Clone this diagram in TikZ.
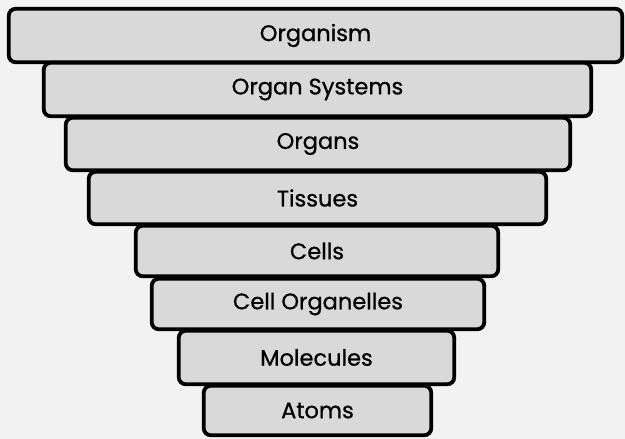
\documentclass[tikz,border=0pt]{standalone}
\usepackage{fontspec}
\setmainfont{Poppins}
\newfontfamily\barfont{Poppins}[FakeBold=0.8]
\definecolor{bg}{HTML}{F2F2F2}
\definecolor{barfill}{HTML}{D9D9D9}
\tikzset{
  bar/.style={draw=black, fill=barfill, line width=3.8pt, rounded corners=7pt,
    inner sep=0pt, font=\barfont\fontsize{22.5}{26}\selectfont, text=black}
}
\begin{document}
\begin{tikzpicture}[x=1pt,y=1pt]
\fill[bg] (0,0) rectangle (625,-439);
\useasboundingbox (0,0) rectangle (625,-439);
\node[bar, minimum width=613.5, minimum height=53.5] (b1) at (315.5,-35.5) {Organism};
\node[bar, minimum width=547.5, minimum height=53.5] (b2) at (317.5,-89.5) {Organ Systems};
\node[bar, minimum width=504.5, minimum height=52.5] (b3) at (318,-144) {Organs};
\node[bar, minimum width=457.5, minimum height=52.5] (b4) at (317.5,-198) {Tissues};
\node[bar, minimum width=362.5, minimum height=50.5] (b5) at (317,-251) {Cells};
\node[bar, minimum width=332.5, minimum height=50.5] (b6) at (318,-304) {Cell Organelles};
\node[bar, minimum width=275.5, minimum height=53.5] (b7) at (316.5,-357.5) {Molecules};
\node[bar, minimum width=227.5, minimum height=49.5] (b8) at (317.5,-410.5) {Atoms};
\end{tikzpicture}
\end{document}
